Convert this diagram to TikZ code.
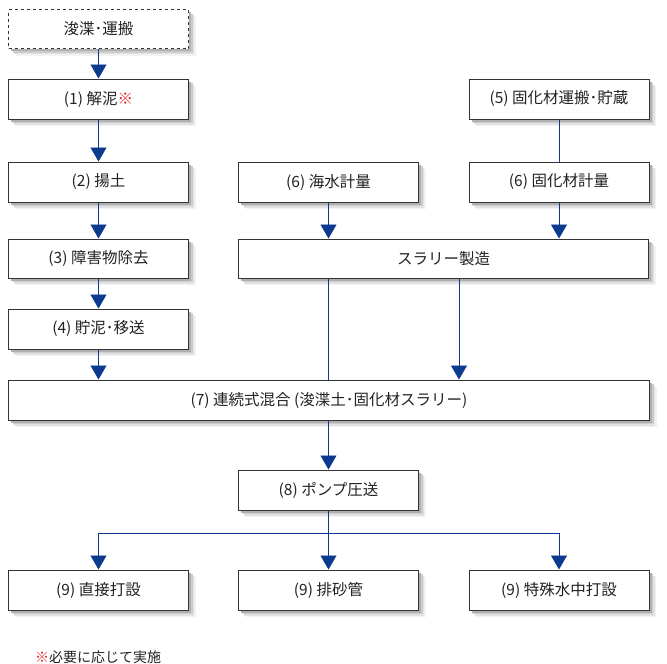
\documentclass[tikz,border=0pt]{standalone}
\usepackage{fontspec}
\setmainfont{Noto Sans CJK JP}
\usetikzlibrary{arrows.meta}

\definecolor{flowblue}{HTML}{0B3A8E}
\definecolor{boxline}{HTML}{333333}
\definecolor{txt}{HTML}{222222}
\definecolor{note}{HTML}{E02020}
\definecolor{shadeA}{HTML}{F2F2F2}
\definecolor{shadeB}{HTML}{E2E2E2}
\definecolor{shadeC}{HTML}{CCCCCC}
\definecolor{shadeD}{HTML}{B0B0B0}

\tikzset{
  box/.style={draw=boxline, line width=1pt, fill=white, text=txt,
    minimum width=180pt, minimum height=40pt, inner sep=0pt,
    font=\fontsize{15.5}{17}\selectfont,
    preaction={fill=shadeA, transform canvas={shift={(7pt,-7pt)}}},
    preaction={fill=shadeB, transform canvas={shift={(5.5pt,-5.5pt)}}},
    preaction={fill=shadeC, transform canvas={shift={(4pt,-4pt)}}},
    preaction={fill=shadeD, transform canvas={shift={(2.5pt,-2.5pt)}}}},
  line/.style={draw=flowblue, line width=0.9pt},
  flow/.style={line, -{Triangle[width=16pt,length=14pt]}}
}

\begin{document}
\begin{tikzpicture}[x=1pt,y=-1pt]

        % Frame
        \useasboundingbox (0,0) rectangle (667,664);

        % Left column
        \node[box, dashed, minimum height=39pt] (dredge) at (98.5,29) {浚渫･運搬};
        \node[box] (p1) at (98.5,99) {(1) 解泥\textcolor{note}{※}};
        \node[box] (p2) at (98.5,182) {(2) 揚土};
        \node[box, minimum height=39pt] (p3) at (98.5,258.5) {(3) 障害物除去};
        \node[box] (p4) at (98.5,329) {(4) 貯泥･移送};

        % Right columns
        \node[box] (p5) at (559,99) {(5) 固化材運搬･貯蔵};
        \node[box] (p6a) at (328.5,182) {(6) 海水計量};
        \node[box] (p6b) at (559,182) {(6) 固化材計量};
        \node[box, minimum width=410pt, minimum height=39pt] (slurry) at (443.5,258.5) {スラリー製造};

        % Mixing and pumping
        \node[box, minimum width=641pt] (p7) at (329,400) {(7) 連続式混合 (浚渫土･固化材スラリー)};
        \node[box] (p8) at (328.5,490) {(8) ポンプ圧送};

        % Placing
        \node[box] (p9a) at (98.5,590) {(9) 直接打設};
        \node[box] (p9b) at (328.5,590) {(9) 排砂管};
        \node[box] (p9c) at (559,590) {(9) 特殊水中打設};

        % Note
        \node[anchor=west, text=txt, font=\fontsize{14}{16}\selectfont, inner sep=0pt] (footnote) at (35,657) {\textcolor{note}{※}必要に応じて実施};

        % Connectors
        \coordinate (mixin) at (459,0);
        \coordinate (split) at (328.5,533);
        \draw[flow] (dredge) -- (p1);
        \draw[flow] (p1) -- (p2);
        \draw[flow] (p2) -- (p3);
        \draw[flow] (p3) -- (p4);
        \draw[flow] (p4) -- (p4.south |- p7.north);
        \draw[line] (p5) -- (p6b);
        \draw[flow] (p6a) -- (p6a.south |- slurry.north);
        \draw[flow] (p6b) -- (p6b.south |- slurry.north);
        \draw[line] (slurry.south -| p6a) -- (p7.north -| p6a);
        \draw[flow] (slurry.south -| mixin) -- (p7.north -| mixin);
        \draw[flow] (p7.south -| p8) -- (p8);
        \draw[line] (p8) -- (split);
        \draw[flow] (split) -| (p9a);
        \draw[flow] (split) -- (p9b);
        \draw[flow] (split) -| (p9c);

\end{tikzpicture}
\end{document}
